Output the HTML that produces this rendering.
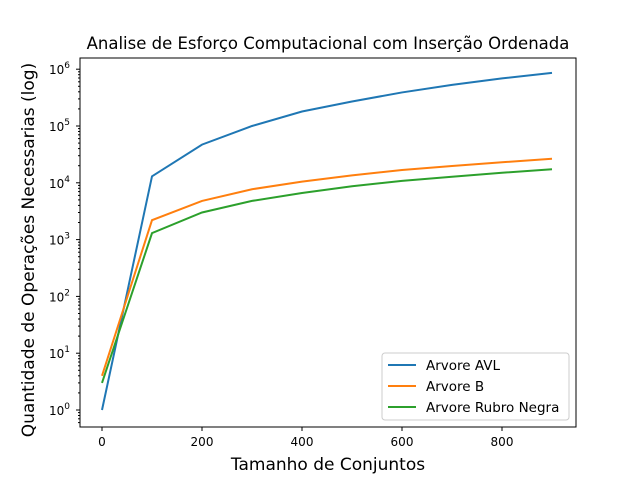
<!DOCTYPE html>
<html><head><meta charset="utf-8"><style>
body{margin:0;background:#fff;}
svg text{font-family:"DejaVu Sans","Liberation Sans",sans-serif;}
</style></head><body>
<svg id="chart" width="640" height="480" xmlns="http://www.w3.org/2000/svg">
<rect width="640" height="480" fill="#fff"/>
<text x="328" y="49" font-size="16.5" text-anchor="middle">Analise de Esforço Computacional com Inserção Ordenada</text>
<g id="marks"></g>
<rect x="80" y="58" width="496" height="369" fill="none" stroke="#000" stroke-width="1"/>
<g id="axes"></g>
<text x="328" y="470" font-size="17" text-anchor="middle">Tamanho de Conjuntos</text>
<text transform="translate(34,250) rotate(-90)" font-size="17" text-anchor="middle">Quantidade de Operações Necessarias (log)</text>
<g>
<rect x="382" y="353" width="187" height="67" rx="3" fill="#fff" fill-opacity="0.8" stroke="#ccc"/>
<g><line x1="388" x2="416" y1="365" y2="365" stroke="#1f77b4" stroke-width="2"/><text x="426" y="370" font-size="13.5">Arvore AVL</text></g>
<g><line x1="388" x2="416" y1="386" y2="386" stroke="#ff7f0e" stroke-width="2"/><text x="426" y="391" font-size="13.5">Arvore B</text></g>
<g><line x1="388" x2="416" y1="407" y2="407" stroke="#2ca02c" stroke-width="2"/><text x="426" y="412" font-size="13.5">Arvore Rubro Negra</text></g>
</g>
</svg>
<script>
const sizes=[0,100,200,300,400,500,600,700,800,900];
const avl=[1,13000,47000,100000,180000,270000,390000,530000,690000,860000];
const arvB=[4,2200,4800,7700,10500,13500,16800,19800,23000,26500];
const rubro=[3,1300,3000,4800,6600,8700,10800,12800,15000,17300];
const xTicks=[0,200,400,600,800];
const yTicks=[0,1,2,3,4,5,6];
const NS="http://www.w3.org/2000/svg";
function xs(v){return 80+(v+44)*(496/992);}
function ys(v){const l=Math.log10(v);return 410-l*56.8;}
function yl(l){return 410-l*56.8;}
const marks=document.getElementById('marks');
[[avl,'#1f77b4','line-avl'],[arvB,'#ff7f0e','line-b'],[rubro,'#2ca02c','line-rubro-negra']].forEach(([d,c,n])=>{
 const p=document.createElementNS(NS,'polyline');
 p.setAttribute('points',d.map((v,i)=>xs(sizes[i])+','+ys(v)).join(' '));
 p.setAttribute('fill','none');p.setAttribute('stroke',c);p.setAttribute('stroke-width','2');
 
 
 marks.appendChild(p);
});
const axes=document.getElementById('axes');
xTicks.forEach(t=>{
 const x=xs(t);
 const g=document.createElementNS(NS,'g');
 
 
 g.innerHTML=`<line x1="${x}" x2="${x}" y1="427" y2="431" stroke="#000"/><text x="${x}" y="446" font-size="12" text-anchor="middle">${t}</text>`;
 axes.appendChild(g);
});
yTicks.forEach(t=>{
 const y=yl(t);
 const g=document.createElementNS(NS,'g');
 
 
 g.innerHTML=`<line x1="76" x2="80" y1="${y}" y2="${y}" stroke="#000"/><text x="70" y="${y+5}" font-size="12" text-anchor="end">10<tspan dy="-6" font-size="9">${t}</tspan></text>`;
 axes.appendChild(g);
 for(let k=2;k<10;k++){
  const ym=yl(t+Math.log10(k));
  if(ym<58||ym>427)continue;
  const m=document.createElementNS(NS,'line');
  m.setAttribute('x1',78);m.setAttribute('x2',80);m.setAttribute('y1',ym);m.setAttribute('y2',ym);m.setAttribute('stroke','#000');
  
  
  axes.appendChild(m);
 }
});
for(let k=2;k<10;k++){const ym=yl(-1+Math.log10(k));if(ym>427)continue;const m=document.createElementNS(NS,'line');m.setAttribute('x1',78);m.setAttribute('x2',80);m.setAttribute('y1',ym);m.setAttribute('y2',ym);m.setAttribute('stroke','#000');


axes.appendChild(m);}
</script>
</body></html>
